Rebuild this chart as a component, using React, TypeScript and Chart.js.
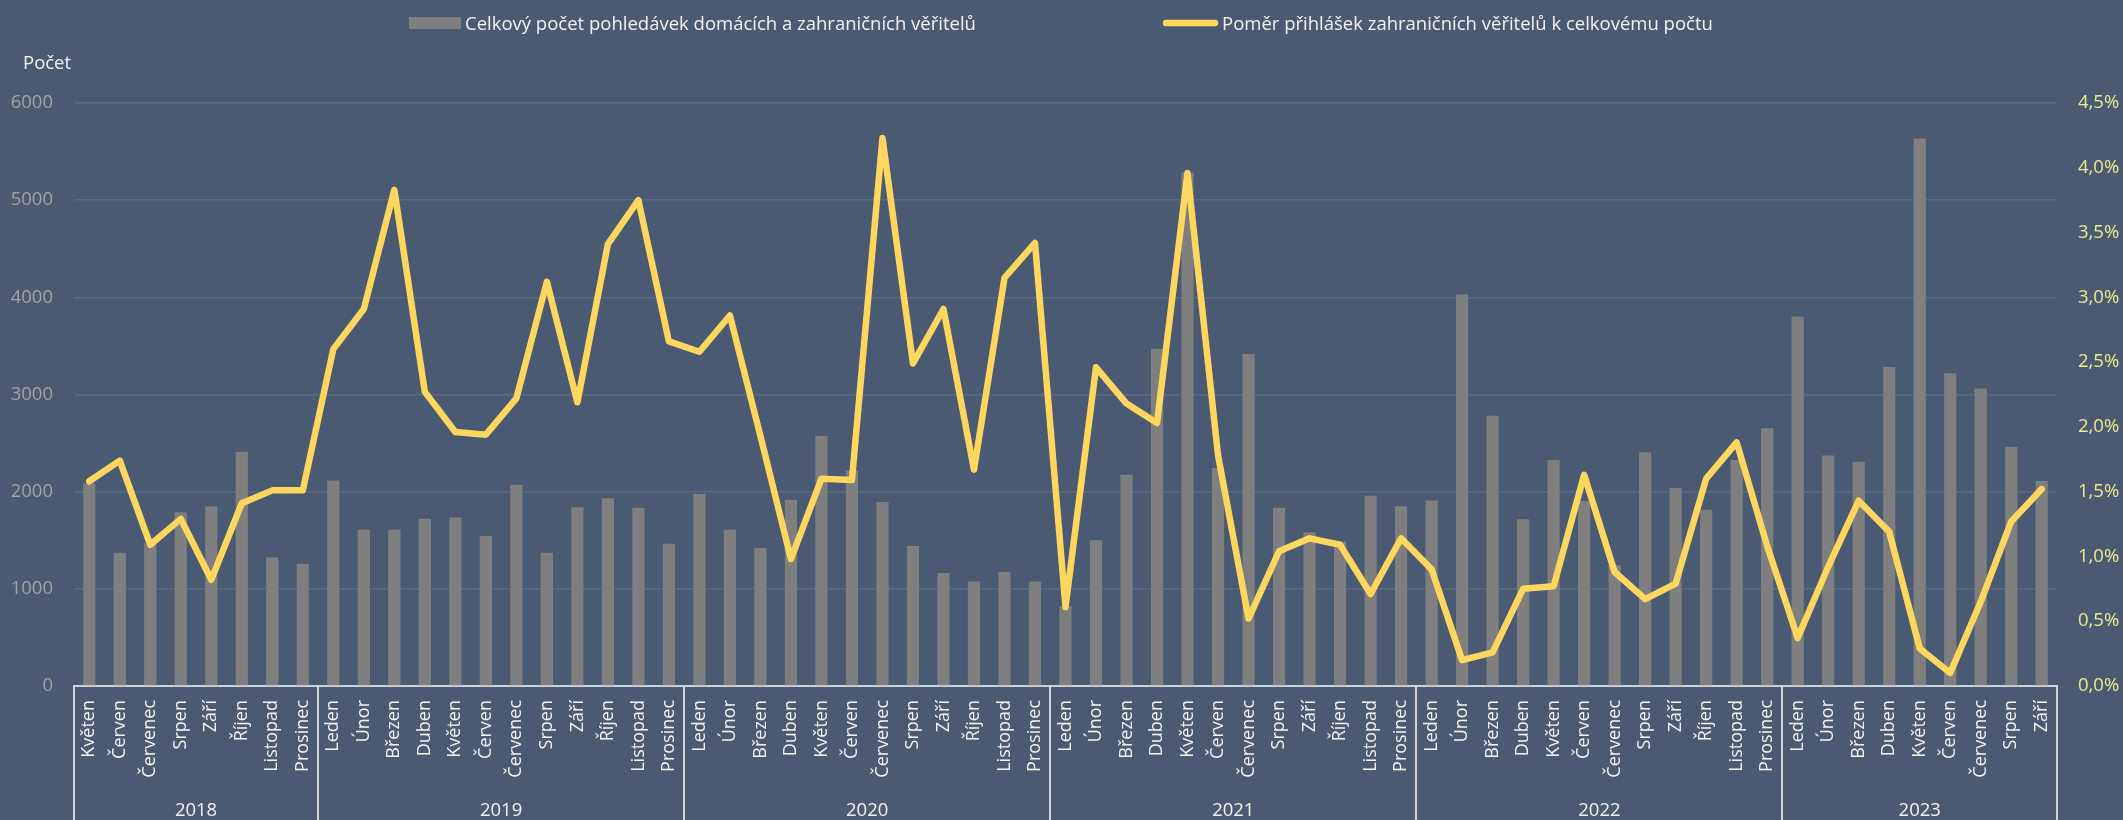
import React, { useEffect, useRef } from 'react';
import { Chart, registerables } from 'chart.js';

Chart.register(...registerables);

const W = 2123;
const H = 820;
const FONT = "'Open Sans', 'DejaVu Sans', sans-serif";

// Category labels (months), grouped by year
const monthLabels = [
  'Květen', 'Červen', 'Červenec', 'Srpen', 'Září', 'Říjen', 'Listopad', 'Prosinec',
  'Leden', 'Únor', 'Březen', 'Duben', 'Květen', 'Červen', 'Červenec', 'Srpen', 'Září', 'Říjen', 'Listopad', 'Prosinec',
  'Leden', 'Únor', 'Březen', 'Duben', 'Květen', 'Červen', 'Červenec', 'Srpen', 'Září', 'Říjen', 'Listopad', 'Prosinec',
  'Leden', 'Únor', 'Březen', 'Duben', 'Květen', 'Červen', 'Červenec', 'Srpen', 'Září', 'Říjen', 'Listopad', 'Prosinec',
  'Leden', 'Únor', 'Březen', 'Duben', 'Květen', 'Červen', 'Červenec', 'Srpen', 'Září', 'Říjen', 'Listopad', 'Prosinec',
  'Leden', 'Únor', 'Březen', 'Duben', 'Květen', 'Červen', 'Červenec', 'Srpen', 'Září',
];
const yearLabels = ['2018', '2019', '2020', '2021', '2022', '2023'];
const yearMonthCounts = [8, 12, 12, 12, 12, 9];

// Series 1: total number of claims (bars, left axis)
const totalClaims = [
  2083, 1372, 1470, 1787, 1851, 2411, 1324, 1259,
  2115, 1609, 1609, 1722, 1733, 1544, 2072, 1372, 1840, 1932, 1835, 1464,
  1975, 1609, 1421, 1916, 2572, 2217, 1894, 1442, 1162, 1076, 1173, 1076,
  820, 1501, 2174, 3471, 5284, 2244, 3417, 1835, 1582, 1485, 1959, 1851,
  1910, 4030, 2782, 1717, 2325, 1905, 1243, 2405, 2039, 1813, 2325, 2653,
  3804, 2373, 2308, 3283, 5634, 3218, 3062, 2459, 2109,
];

// Series 2: share of foreign creditors' claims in % (line, right axis)
const foreignShare = [
  1.58, 1.74, 1.09, 1.29, 0.82, 1.41, 1.51, 1.51,
  2.60, 2.91, 3.83, 2.27, 1.96, 1.94, 2.22, 3.12, 2.19, 3.41, 3.75, 2.66,
  2.58, 2.86, 1.93, 0.98, 1.60, 1.59, 4.23, 2.49, 2.91, 1.67, 3.15, 3.42,
  0.61, 2.46, 2.18, 2.03, 3.96, 1.78, 0.52, 1.04, 1.14, 1.09, 0.71, 1.14,
  0.90, 0.20, 0.26, 0.75, 0.77, 1.63, 0.88, 0.67, 0.79, 1.60, 1.88, 1.08,
  0.37, 0.92, 1.43, 1.19, 0.29, 0.10, 0.65, 1.27, 1.52,
];

const leftTicks = { min: 0, max: 6000, step: 1000 };
const rightTicks = { min: 0, max: 4.5, step: 0.5 };

const barLegend = 'Celkový počet pohledávek domácích a zahraničních věřitelů';
const lineLegend = 'Poměr přihlášek zahraničních věřitelů k celkovému počtu';
const leftAxisTitle = 'Počet';

const BG = '#4a5a72';
const BAR = '#7f7f7f';
const LINE = '#ffd75e';
const GRID = '#5a6a85';
const AXIS = '#d0d3d9';

const decorPlugin = {
  id: 'decor',
  beforeDraw(chart: any) {
    const ctx = chart.ctx;
    ctx.save();
    ctx.fillStyle = BG;
    ctx.fillRect(0, 0, chart.width, chart.height);
    ctx.restore();
  },
  afterDraw(chart: any) {
    const ctx = chart.ctx;
    const xs = chart.scales.x;
    const area = chart.chartArea;
    const half = (xs.getPixelForValue(1) - xs.getPixelForValue(0)) / 2;
    ctx.save();
    // group separators
    ctx.strokeStyle = AXIS;
    ctx.lineWidth = 2;
    let idx = 0;
    const bounds: number[] = [xs.getPixelForValue(0) - half];
    yearMonthCounts.forEach((c) => {
      idx += c;
      bounds.push(xs.getPixelForValue(idx - 1) + half);
    });
    bounds.forEach((bx) => {
      ctx.beginPath();
      ctx.moveTo(Math.round(bx), area.bottom);
      ctx.lineTo(Math.round(bx), chart.height);
      ctx.stroke();
    });
    // year labels
    ctx.fillStyle = '#f2f2f2';
    ctx.font = `18.5px ${FONT}`;
    ctx.textAlign = 'center';
    ctx.textBaseline = 'alphabetic';
    yearLabels.forEach((y, i) => {
      ctx.fillText(y, (bounds[i] + bounds[i + 1]) / 2, 816);
    });
    // left axis title
    ctx.textAlign = 'left';
    ctx.fillText(leftAxisTitle, 23, 69);
    // legend
    ctx.fillStyle = BAR;
    ctx.fillRect(409, 17, 52, 12);
    ctx.fillStyle = '#f2f2f2';
    ctx.fillText(barLegend, 465, 30);
    ctx.strokeStyle = LINE;
    ctx.lineWidth = 6.5;
    ctx.lineCap = 'round';
    ctx.beginPath();
    ctx.moveTo(1166, 23);
    ctx.lineTo(1215, 23);
    ctx.stroke();
    ctx.fillText(lineLegend, 1222, 30);
    ctx.restore();
  },
};

export default function App() {
  const ref = useRef<HTMLCanvasElement>(null);
  useEffect(() => {
    document.body.style.margin = '0';
    const canvas = ref.current!;
    const chart = new Chart(canvas, {
      type: 'bar',
      data: {
        labels: monthLabels,
        datasets: [
          {
            type: 'line',
            label: lineLegend,
            data: foreignShare,
            yAxisID: 'y1',
            borderColor: LINE,
            backgroundColor: LINE,
            borderWidth: 6.5,
            pointRadius: 0,
            tension: 0,
            borderJoinStyle: 'round',
            borderCapStyle: 'round',
            order: 0,
          } as any,
          {
            type: 'bar',
            label: barLegend,
            data: totalClaims,
            yAxisID: 'y',
            backgroundColor: BAR,
            barPercentage: 0.4,
            categoryPercentage: 1,
            order: 1,
          },
        ],
      },
      options: {
        responsive: false,
        animation: false,
        devicePixelRatio: 1,
        layout: { padding: { top: 103, left: 0, right: 0, bottom: 0 } },
        plugins: { legend: { display: false }, tooltip: { enabled: false } },
        scales: {
          x: {
            type: 'category',
            grid: { display: false, drawTicks: false },
            border: { display: true, color: AXIS, width: 2 },
            ticks: {
              autoSkip: false,
              maxRotation: 90,
              minRotation: 90,
              padding: 14,
              color: '#f2f2f2',
              font: { family: FONT, size: 18 },
            },
            afterFit: (s: any) => { s.height = 134; },
          },
          y: {
            position: 'left',
            min: leftTicks.min,
            max: leftTicks.max,
            ticks: {
              stepSize: leftTicks.step,
              padding: 21,
              color: '#a3a3a3',
              font: { family: FONT, size: 18.5 },
              callback: (v: any) => String(v),
            },
            grid: { color: GRID, lineWidth: 1.5, drawTicks: false },
            border: { display: false },
            afterFit: (s: any) => { s.width = 74; },
          },
          y1: {
            position: 'right',
            min: rightTicks.min,
            max: rightTicks.max,
            ticks: {
              stepSize: rightTicks.step,
              padding: 21,
              color: '#efe98c',
              font: { family: FONT, size: 18.5 },
              callback: (v: any) => `${Number(v).toFixed(1).replace('.', ',')}%`,
            },
            grid: { display: false, drawTicks: false },
            border: { display: false },
            afterFit: (s: any) => { s.width = 66; },
          },
        },
      } as any,
      plugins: [decorPlugin],
    });
    return () => chart.destroy();
  }, []);
  return (
    <div style={{ position: 'fixed', left: 0, top: 0, width: W, height: H }}>
      <canvas ref={ref} width={W} height={H} style={{ width: W, height: H, display: 'block' }} />
    </div>
  );
}
